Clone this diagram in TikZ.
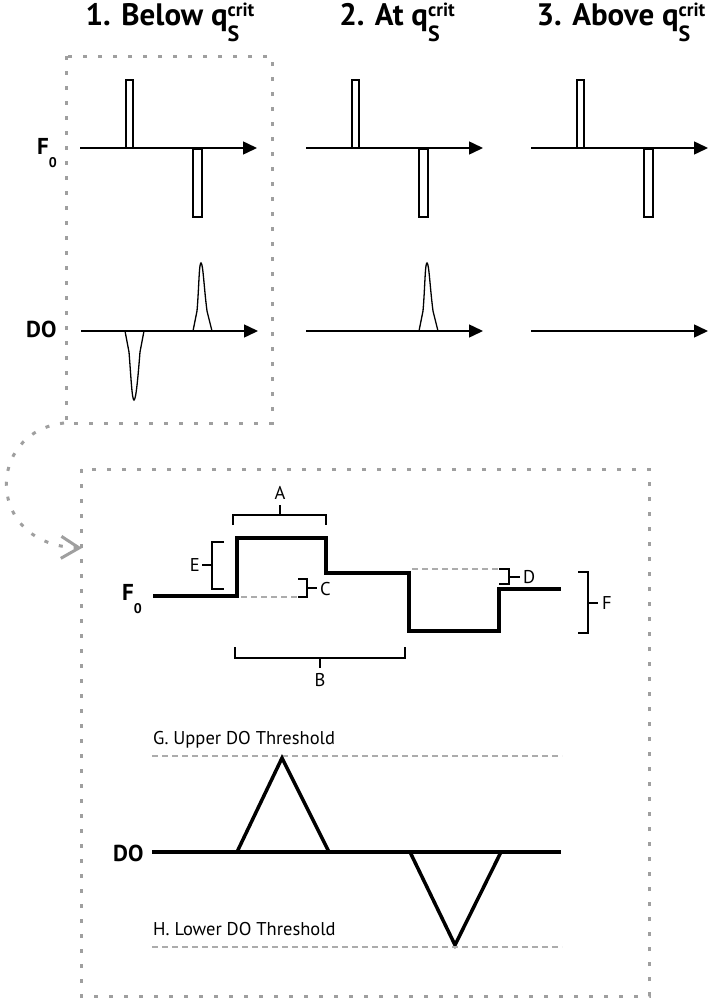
\documentclass[tikz,border=0pt]{standalone}
\usepackage{fontspec}
\setmainfont{PT Sans}
\usetikzlibrary{arrows.meta}

\newcommand{\qcrit}{q\rlap{\raisebox{-16pt}{\fontsize{22}{22}\selectfont S}}\raisebox{9pt}{\fontsize{19}{19}\selectfont crit}}
\newcommand{\Fzero}{F\raisebox{-13pt}{\fontsize{14}{14}\selectfont 0}}

\begin{document}
\begin{tikzpicture}[x=1pt,y=-1pt,
  frame/.style={draw=gray!75, line width=3pt, dash pattern=on 4pt off 11pt},
  ax/.style={line width=1.5pt, -{Triangle[length=14pt,width=13pt]}},
  bar/.style={line width=1.3pt, fill=white},
  sig/.style={line width=3.5pt},
  guide/.style={draw=gray!65, line width=1.5pt, dash pattern=on 6pt off 4pt},
  brk/.style={line width=1.3pt},
  ttl/.style={font=\fontsize{31}{31}\selectfont\bfseries},
  big/.style={font=\fontsize{23}{23}\selectfont\bfseries},
  small/.style={font=\fontsize{18.5}{18.5}\selectfont}]
\useasboundingbox (0,0) rectangle (710,1001);

% titles
\node[ttl, anchor=base] (t1) at (170,25) {1. Below \qcrit};
\node[ttl, anchor=base] (t2) at (397,25) {2. At \qcrit};
\node[ttl, anchor=base] (t3) at (621,25) {3. Above \qcrit};

% row labels
\node[big, anchor=base west, inner sep=0pt] (f0top) at (37,154) {\Fzero};
\node[big, anchor=base west, inner sep=0pt] (dotop) at (26,337) {DO};

% panel 1
\draw[ax] (80,148) -- (257,148);
\draw[bar] (126,80) rectangle (133,148);
\draw[bar] (193,149) rectangle (202,217);
\draw[ax] (81,331) -- (258,331);
\draw[line width=1.3pt] (193,331) -- (197,311) .. controls (199,288) and (199,263) .. (201,263) .. controls (203,263) and (204,288) .. (207,311) -- (212,331); %peak
\draw[line width=1.3pt] (125,331) -- (129,352) .. controls (131,377) and (132,400) .. (134,400) .. controls (136,400) and (138,377) .. (140,352) -- (144,331); %dip

% panel 2
\draw[ax] (306,148) -- (483,148);
\draw[bar] (352,80) rectangle (359,148);
\draw[bar] (419,149) rectangle (428,217);
\draw[ax] (306,331) -- (483,331);
\draw[line width=1.3pt] (419,331) -- (423,311) .. controls (425,288) and (425,263) .. (427,263) .. controls (429,263) and (430,288) .. (433,311) -- (438,331);

% panel 3
\draw[ax] (531,148) -- (708,148);
\draw[bar] (577,80) rectangle (584,148);
\draw[bar] (644,149) rectangle (653,217);
\draw[ax] (531,331) -- (708,331);

% frames
\draw[frame] (66,56) rectangle (272,423);
\draw[frame] (81,469) rectangle (649,996);
\coordinate (c1) at (64,423);
\coordinate (c2) at (82,548);
\draw[frame, -{Straight Barb[length=18pt,width=22pt]}] (c1) .. controls (-15,432) and (-15,545) .. (c2);

% zoomed F0
\node[big, anchor=base west, inner sep=0pt] (f0bot) at (122,600) {\Fzero};
\draw[guide] (241,597) -- (297,597);
\draw[guide] (412,569) -- (500,569);
\draw[sig] (153,596) -- (237,596) -- (237,538) -- (326,538) -- (326,573) -- (409,573) -- (409,631) -- (499,631) -- (499,589) -- (561,589);

\draw[brk] (233,525) -- (233,515) -- (326,515) -- (326,525);
\draw[brk] (280,515) -- (280,505);
\node[small, anchor=base] (la) at (280,499) {A};
\draw[brk] (235,647) -- (235,658) -- (405,658) -- (405,647);
\draw[brk] (320,658) -- (320,668);
\node[small, anchor=base] (lb) at (320,686) {B};
\draw[brk] (298,579) -- (307,579) -- (307,597) -- (298,597);
\draw[brk] (307,588) -- (317,588);
\node[small, anchor=base west, inner sep=0pt] (lc) at (320,595) {C};
\draw[brk] (499,569) -- (509,569) -- (509,584) -- (499,584);
\draw[brk] (509,577) -- (520,577);
\node[small, anchor=base west, inner sep=0pt] (ld) at (523,583) {D};
\draw[brk] (224,542) -- (212,542) -- (212,589) -- (224,589);
\draw[brk] (212,565) -- (202,565);
\node[small, anchor=base east, inner sep=0pt] (le) at (200,571) {E};
\draw[brk] (578,572) -- (588,572) -- (588,633) -- (578,633);
\draw[brk] (588,603) -- (598,603);
\node[small, anchor=base west, inner sep=0pt] (lf) at (602,609) {F};

% zoomed DO
\node[small, anchor=base west, inner sep=0pt] (lg) at (153,744) {G. Upper DO Threshold};
\draw[guide] (152,756) -- (562,756);
\node[big, anchor=base west, inner sep=0pt] (dobot) at (113,861) {DO};
\draw[sig] (152,852) -- (561,852);
\draw[sig, line join=miter] (237,852) -- (282,758) -- (329,852);
\draw[sig, line join=miter] (410,852) -- (455,945) -- (501,852);
\node[small, anchor=base west, inner sep=0pt] (lh) at (153,935) {H. Lower DO Threshold};
\draw[guide] (152,947) -- (562,947);
\end{tikzpicture}
\end{document}
